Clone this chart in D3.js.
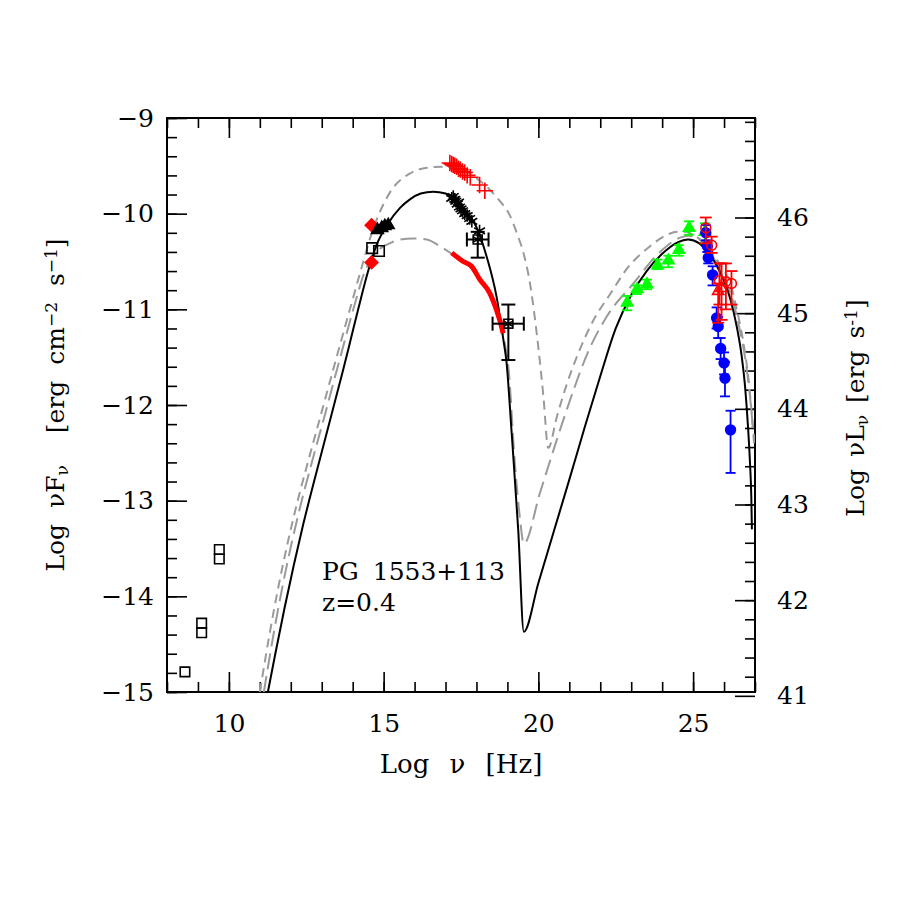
<!DOCTYPE html>
<html>
<head>
  <meta charset="utf-8">
  <title>PG 1553+113 SED</title>
  <script src="https://cdn.jsdelivr.net/npm/d3@7"></script>
  <style>
    body { margin: 0; background: #fff; }
    text { font-family: "DejaVu Serif", "Liberation Serif", serif; fill: #000; }
  </style>
</head>
<body>
<svg id="mainsvg" width="900" height="900"></svg>
<script>
  // ---- data: [log nu, log nuFnu] ----
  const modelBlack = [[11.26,-15.0],[11.5,-14.6],[11.8,-14.12],[12.1,-13.67],[12.4,-13.25],[12.8,-12.74],[13.3,-12.12],[13.67,-11.66],[13.91,-11.35],[14.2,-10.97],[14.5,-10.6],[14.78,-10.32],[15.15,-10.1],[15.53,-9.94],[15.85,-9.85],[16.2,-9.79],[16.6,-9.77],[17.0,-9.79],[17.35,-9.87],[17.7,-9.99],[18.0,-10.14],[18.33,-10.45],[18.65,-10.87],[18.87,-11.32],[18.97,-11.55],[19.13,-12.26],[19.35,-13.31],[19.53,-14.37],[20.0,-13.86],[20.5,-13.32],[21.0,-12.78],[21.5,-12.23],[22.0,-11.7],[22.5,-11.2],[23.0,-10.85],[23.5,-10.6],[24.0,-10.42],[24.5,-10.3],[24.84,-10.27],[25.2,-10.31],[25.5,-10.41],[25.87,-10.61],[26.19,-10.88],[26.41,-11.18],[26.57,-11.49],[26.68,-11.81],[26.78,-12.26],[26.84,-12.62],[26.88,-12.95],[26.9,-13.3]];
  const modelHigh = [[11.0,-15.0],[11.3,-14.42],[11.6,-13.9],[11.9,-13.44],[12.2,-13.03],[12.5,-12.66],[12.94,-12.14],[13.48,-11.5],[13.91,-11.0],[14.3,-10.55],[14.6,-10.22],[15.2,-9.78],[15.85,-9.58],[16.4,-9.52],[16.9,-9.51],[17.5,-9.54],[18.0,-9.63],[18.4,-9.74],[18.76,-9.87],[19.05,-10.0],[19.3,-10.2],[19.55,-10.45],[19.73,-10.73],[19.89,-11.1],[20.0,-11.4],[20.16,-11.9],[20.32,-12.45],[20.6,-12.12],[20.9,-11.8],[21.3,-11.45],[21.77,-11.12],[22.3,-10.85],[22.9,-10.56],[23.61,-10.34],[24.1,-10.23],[24.5,-10.19],[24.75,-10.19],[25.0,-10.22],[25.5,-10.36],[25.9,-10.55],[26.19,-10.72],[26.41,-11.0],[26.6,-11.3],[26.78,-11.7],[26.9,-12.1],[27.0,-12.45]];
  const modelLow = [[11.13,-15.0],[11.43,-14.42],[11.73,-13.9],[12.03,-13.44],[12.33,-13.03],[12.63,-12.66],[13.07,-12.14],[13.6,-11.5],[14.02,-11.0],[14.4,-10.6],[14.7,-10.43],[14.95,-10.35],[15.2,-10.31],[15.53,-10.27],[15.96,-10.26],[16.39,-10.27],[16.82,-10.34],[17.25,-10.43],[17.57,-10.5],[17.84,-10.57],[18.11,-10.69],[18.43,-10.86],[18.65,-11.02],[18.81,-11.2],[18.95,-11.42],[19.03,-11.6],[19.24,-12.61],[19.4,-13.17],[19.53,-13.45],[20.05,-12.92],[20.59,-12.37],[21.13,-11.85],[21.6,-11.45],[22.2,-11.08],[23.07,-10.73],[23.93,-10.4],[24.58,-10.25],[24.85,-10.23],[25.2,-10.27],[25.6,-10.43],[26.0,-10.68],[26.3,-10.93],[26.5,-11.2],[26.7,-11.55],[26.85,-11.95],[26.97,-12.4]];

  const xrayBowtie = [[17.2,-10.41],[17.57,-10.5],[17.84,-10.55],[18.11,-10.69],[18.43,-10.83],[18.65,-11.01],[18.81,-11.18],[18.86,-11.25]];
  const xrayHigh = [[17.14,-9.47],[17.2,-9.48],[17.25,-9.49],[17.3,-9.5],[17.36,-9.51],[17.42,-9.53],[17.48,-9.54],[17.55,-9.56],[17.62,-9.57],[17.7,-9.6],[17.8,-9.62],[18.1,-9.7],[18.27,-9.76]];
  const xrayStars = [[17.2,-9.84],[17.25,-9.82],[17.3,-9.85],[17.33,-9.87],[17.38,-9.9],[17.42,-9.88],[17.45,-9.93],[17.5,-9.95],[17.55,-9.97],[17.62,-10.0],[17.7,-10.02],[17.78,-10.05],[17.85,-10.08],[18.1,-10.18]];
  // [nu, F, nuLo, nuHi, Flo, Fhi]
  const hardX = [[18.04,-10.27,17.69,18.39,-10.46,-10.19],[19.03,-11.15,18.52,19.53,-11.53,-10.95]];

  const radioSq = [[8.58,-14.79],[9.12,-14.28],[9.12,-14.38],[9.69,-13.51],[9.69,-13.61]];
  const optSq = [[14.63,-10.36],[14.85,-10.39]];
  const optDiamonds = [[14.61,-10.12],[14.61,-10.51]];
  const uvTri = [[14.8,-10.17],[14.94,-10.15],[15.04,-10.13],[15.15,-10.12]];

  // [nu, F, Fhi, Flo]
  const fermi = [[22.87,-10.93,-10.86,-11.01],[23.19,-10.79,-10.75,-10.84],[23.51,-10.74,-10.69,-10.79],[23.85,-10.54,-10.48,-10.58],[24.2,-10.49,-10.44,-10.56],[24.54,-10.38,-10.33,-10.44],[24.87,-10.15,-10.08,-10.22],[25.38,-10.19,-10.1,-10.31]];
  const vheBlue = [[25.41,-10.2,-10.12,-10.28],[25.46,-10.34,-10.28,-10.4],[25.49,-10.46,-10.4,-10.52],[25.63,-10.64,-10.55,-10.75],[25.76,-11.09,-10.98,-11.2],[25.81,-11.18,-11.08,-11.3],[25.89,-11.41,-11.3,-11.52],[26.0,-11.56,-11.45,-11.68],[26.03,-11.72,-11.55,-11.91],[26.21,-12.26,-12.06,-12.71]];
  const vheRedCirc = [[25.41,-10.15,-10.04,-10.31],[25.6,-10.33,-10.24,-10.41],[25.85,-10.7,-10.52,-10.95],[26.06,-10.71,-10.52,-11.0],[26.24,-10.73,-10.6,-10.95]];
  const vheRedTri = [[25.81,-10.81,-10.73,-11.14],[25.92,-10.78,-10.52,-11.11]];

  const xMajor = [10, 15, 20, 25];
  const yMajor = [-15, -14, -13, -12, -11, -10, -9];
  const yRightMajor = [41, 42, 43, 44, 45, 46];
  const lumOffset = 56.04;

  // ---- layout ----
  const L = 167, R = 755, T = 118, B = 692;
  const svg = d3.select('#mainsvg');
  const x = d3.scaleLinear().domain([8, 27]).range([L, R]);
  const y = d3.scaleLinear().domain([-15, -9]).range([B, T]);
  const yR = d3.scaleLinear().domain([-15 + lumOffset, -9 + lumOffset]).range([B, T]);

  svg.append('defs').append('clipPath').attr('id', 'clip')
    .append('rect').attr('x', L).attr('y', T).attr('width', R - L).attr('height', B - T);

  // axes, ticks pointing inwards
  function styleAxis(g) {
    g.select('.domain').remove();
    g.selectAll('.tick line').attr('stroke', '#000').attr('stroke-width', 1.6);
    g.selectAll('.tick text').style('font-size', '25px').style('font-family', '"DejaVu Serif", serif');
  }
  const xMinor = d3.range(8, 28);
  const yMinor = d3.range(-15, -8.99, 0.2);
  const yRMinor = d3.range(41.2, 47.04, 0.2);

  svg.append('g').attr('transform', `translate(0,${B})`)
    .call(d3.axisBottom(x).tickValues(xMinor).tickSize(-10).tickFormat('')).call(styleAxis);
  svg.append('g').attr('transform', `translate(0,${B})`)
    .call(d3.axisBottom(x).tickValues(xMajor).tickSize(-20).tickPadding(22).tickFormat(d3.format('d'))).call(styleAxis);
  svg.append('g').attr('transform', `translate(0,${T})`)
    .call(d3.axisTop(x).tickValues(xMinor).tickSize(-10).tickFormat('')).call(styleAxis);
  svg.append('g').attr('transform', `translate(0,${T})`)
    .call(d3.axisTop(x).tickValues(xMajor).tickSize(-20).tickFormat('')).call(styleAxis);

  svg.append('g').attr('transform', `translate(${L},0)`)
    .call(d3.axisLeft(y).tickValues(yMinor).tickSize(-10).tickFormat('')).call(styleAxis);
  svg.append('g').attr('transform', `translate(${L},0)`)
    .call(d3.axisLeft(y).tickValues(yMajor).tickSize(-20).tickPadding(13).tickFormat(d3.format('d'))).call(styleAxis);

  svg.append('g').attr('transform', `translate(${R},0)`)
    .call(d3.axisRight(yR).tickValues(yRMinor).tickSize(-10).tickFormat('')).call(styleAxis);
  svg.append('g').attr('transform', `translate(${R},0)`)
    .call(d3.axisRight(yR).tickValues(yRightMajor).tickSize(-20).tickPadding(22).tickFormat(d3.format('d'))).call(styleAxis);

  svg.append('rect').attr('x', L).attr('y', T).attr('width', R - L).attr('height', B - T)
    .attr('fill', 'none').attr('stroke', '#000').attr('stroke-width', 2);

  // ---- model curves ----
  const line = d3.line().x(d => x(d[0])).y(d => y(d[1])).curve(d3.curveMonotoneX);
  const plot = svg.append('g').attr('clip-path', 'url(#clip)');

  plot.append('path').datum(modelHigh).attr('d', line).attr('fill', 'none')
    .attr('stroke', '#9a9a9a').attr('stroke-width', 2).attr('stroke-dasharray', '9,6');
  plot.append('path').datum(modelLow).attr('d', line).attr('fill', 'none')
    .attr('stroke', '#9a9a9a').attr('stroke-width', 2).attr('stroke-dasharray', '16,7');
  plot.append('path').datum(modelBlack).attr('d', line).attr('fill', 'none')
    .attr('stroke', '#000').attr('stroke-width', 2);

  plot.append('path').datum(xrayBowtie).attr('d', line).attr('fill', 'none')
    .attr('stroke', '#ff0000').attr('stroke-width', 5);

  // ---- helpers ----
  function vErr(g, data, col, ix, iLo, iHi, cap) {
    g.selectAll(null).data(data).join('line')
      .attr('x1', d => x(d[ix])).attr('x2', d => x(d[ix]))
      .attr('y1', d => y(d[iLo])).attr('y2', d => y(d[iHi]))
      .attr('stroke', col).attr('stroke-width', 1.8);
    [iLo, iHi].forEach(k => {
      g.selectAll(null).data(data).join('line')
        .attr('x1', d => x(d[ix]) - cap).attr('x2', d => x(d[ix]) + cap)
        .attr('y1', d => y(d[k])).attr('y2', d => y(d[k]))
        .attr('stroke', col).attr('stroke-width', 1.8);
    });
  }
  function symbols(g, data, type, size, fill, stroke, rot) {
    g.selectAll(null).data(data).join('path')
      .attr('d', d3.symbol().type(type).size(size))
      .attr('transform', d => `translate(${x(d[0])},${y(d[1])}) rotate(${rot || 0})`)
      .attr('fill', fill).attr('stroke', stroke).attr('stroke-width', 1.6);
  }
  const plusType = d3.symbolPlus || d3.symbolCross;
  const starType = d3.symbolAsterisk || d3.symbolStar;

  const pts = svg.append('g');

  // radio + optical
  symbols(pts, radioSq, d3.symbolSquare, 90, 'none', '#000');
  symbols(pts, optSq, d3.symbolSquare, 110, 'none', '#000');
  symbols(pts, optDiamonds, d3.symbolSquare, 110, '#ff0000', 'none', 45);
  symbols(pts, uvTri, d3.symbolTriangle, 60, '#000', '#000');

  // X-rays
  symbols(pts, xrayHigh, plusType, 90, 'none', '#ff0000', 0);
  symbols(pts, xrayStars, starType, 110, 'none', '#000');
  hardX.forEach(d => {
    pts.append('line').attr('x1', x(d[2])).attr('x2', x(d[3])).attr('y1', y(d[1])).attr('y2', y(d[1]))
      .attr('stroke', '#000').attr('stroke-width', 2);
    pts.append('line').attr('x1', x(d[0])).attr('x2', x(d[0])).attr('y1', y(d[4])).attr('y2', y(d[5]))
      .attr('stroke', '#000').attr('stroke-width', 2);
    [[x(d[2]), y(d[1]), 'v'], [x(d[3]), y(d[1]), 'v'], [x(d[0]), y(d[4]), 'h'], [x(d[0]), y(d[5]), 'h']].forEach(c => {
      pts.append('line')
        .attr('x1', c[2] === 'v' ? c[0] : c[0] - 7).attr('x2', c[2] === 'v' ? c[0] : c[0] + 7)
        .attr('y1', c[2] === 'v' ? c[1] - 7 : c[1]).attr('y2', c[2] === 'v' ? c[1] + 7 : c[1])
        .attr('stroke', '#000').attr('stroke-width', 2);
    });
  });
  symbols(pts, hardX, d3.symbolSquare, 80, 'none', '#000');
  symbols(pts, hardX, starType, 90, 'none', '#000');

  // gamma rays
  vErr(pts, fermi, '#00ff00', 0, 2, 3, 5);
  symbols(pts, fermi, d3.symbolTriangle, 55, '#00ff00', '#00ff00');
  vErr(pts, vheBlue, '#0000ff', 0, 2, 3, 5);
  symbols(pts, vheBlue, d3.symbolCircle, 75, '#0000ff', '#0000ff');
  vErr(pts, vheRedTri, '#ff0000', 0, 2, 3, 6);
  symbols(pts, vheRedTri, d3.symbolTriangle, 55, 'none', '#ff0000');
  vErr(pts, vheRedCirc, '#ff0000', 0, 2, 3, 6);
  symbols(pts, vheRedCirc, d3.symbolCircle, 75, 'none', '#ff0000');

  // ---- text ----
  svg.append('text').attr('x', 322).attr('y', 580).style('font-size', '25px').text('PG 1553+113')
    .style('word-spacing', '6px');
  svg.append('text').attr('x', 322).attr('y', 611).style('font-size', '25px').text('z=0.4');

  svg.append('text').attr('x', (L + R) / 2).attr('y', 773).attr('text-anchor', 'middle')
    .style('font-size', '26px').style('word-spacing', '12px').text('Log \u03BD [Hz]');

  const yl = svg.append('text').attr('transform', 'translate(64,405) rotate(-90)')
    .attr('text-anchor', 'middle').style('font-size', '25px').style('word-spacing', '8px');
  yl.append('tspan').text('Log \u03BDF');
  yl.append('tspan').attr('baseline-shift', '-25%').style('font-size', '17px').text('\u03BD');
  yl.append('tspan').text('\u00A0 [erg cm');
  yl.append('tspan').attr('baseline-shift', '40%').style('font-size', '17px').text('\u22122');
  yl.append('tspan').text(' s');
  yl.append('tspan').attr('baseline-shift', '40%').style('font-size', '17px').text('\u22121');
  yl.append('tspan').text(']');

  const yr = svg.append('text').attr('transform', 'translate(864,408) rotate(-90)')
    .attr('text-anchor', 'middle').style('font-size', '25px').style('word-spacing', '4px');
  yr.append('tspan').text('Log \u03BDL');
  yr.append('tspan').attr('baseline-shift', '-25%').style('font-size', '17px').text('\u03BD');
  yr.append('tspan').text(' [erg s');
  yr.append('tspan').attr('baseline-shift', '40%').style('font-size', '17px').text('-1');
  yr.append('tspan').text(']');
</script>
</body>
</html>
